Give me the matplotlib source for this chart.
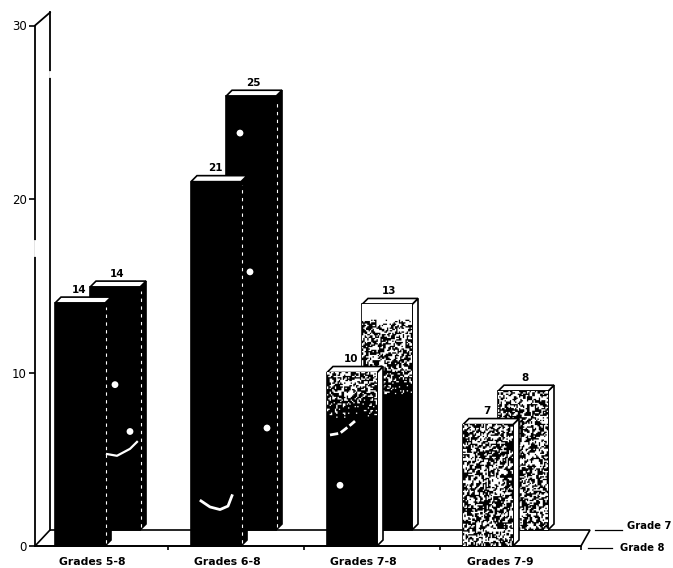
import numpy as np
import matplotlib
matplotlib.use("Agg")
import matplotlib.pyplot as plt
from matplotlib.patches import Polygon

categories = ["Grades 5-8", "Grades 6-8", "Grades 7-8", "Grades 7-9"]
series_names = ["Grade 7", "Grade 8"]
grade_8 = [14, 21, 10, 7]
grade_7 = [14, 25, 13, 8]
y_ticks = [0, 10, 20, 30]

# shading per bar, as (fraction down the bar, darkness); None means solid black
shade_8 = [None, None, [(0, 0.5), (0.08, 0.55), (0.2, 0.8), (0.27, 1.0), (1, 1.0)], [(0, 0.55), (0.8, 0.55), (1, 0.4)]]
shade_7 = [None, None, [(0, 0.0), (0.06, 0.0), (0.09, 0.5), (0.3, 0.58), (0.37, 0.9), (0.42, 1.0), (1, 1.0)], [(0, 0.5), (1, 0.5)]]

px_per_unit = 17.35
depth_x, depth_y = 35, 16 / px_per_unit
side_x, side_y = 6, 6 / px_per_unit
bar_w = 50
group_x = np.arange(4) * 136


def stipple(w, val, profile):
    # speckled fill, darker where the profile says so
    rows = max(int(val * px_per_unit / 1.3), 2)
    cols = int(w / 1.3)
    yy, xx = np.mgrid[0:rows, 0:cols]
    p = np.stack([xx + 7.0 * val, yy + 3.0, xx + 11.0], -1) * 0.1031
    p = p - np.floor(p)
    p = p + (p * (p[..., [1, 2, 0]] + 33.33)).sum(-1, keepdims=True)
    grain = (p[..., 0] + p[..., 1]) * p[..., 2]
    grain = grain - np.floor(grain)
    # neighbouring cells are merged so the specks form small clumps
    grain = grain + 0.7 * (np.roll(grain, 1, 0) + np.roll(grain, 1, 1))
    grain = grain.ravel().argsort().argsort().reshape(grain.shape) / grain.size
    frac = yy / (rows - 1)
    dark = np.interp(frac, [q[0] for q in profile], [q[1] for q in profile])
    return (grain > dark).astype(float)


def draw_bar(ax, x, val, base, profile, z, label_dx):
    face = "black" if profile is None else "white"
    side = [(x + bar_w, base), (x + bar_w + side_x, base + side_y),
            (x + bar_w + side_x, base + val + side_y), (x + bar_w, base + val)]
    cap = [(x, base + val), (x + side_x, base + val + side_y),
           (x + bar_w + side_x, base + val + side_y), (x + bar_w, base + val)]
    ax.add_patch(Polygon(side, facecolor=face, edgecolor="black", lw=1.2, zorder=z))
    ax.add_patch(Polygon(cap, facecolor="white", edgecolor="black", lw=1.2, zorder=z))
    ax.bar(x, val, bar_w, bottom=base, align="edge", facecolor=face, edgecolor="black", lw=1.2, zorder=z)
    if profile is not None:
        ax.imshow(stipple(bar_w, val, profile), extent=[x, x + bar_w, base, base + val],
                  aspect="auto", cmap="gray", vmin=0, vmax=1, interpolation="antialiased", zorder=z + 0.1)
    else:
        # pale dashed seam between the face and the side of dark bars
        ax.plot([x + bar_w + 1, x + bar_w + 1], [base + 0.2, base + val - 0.2], color="white",
                lw=0.8, ls=(0, (3, 4)), zorder=z + 0.1)
    ax.text(x + label_dx, base + val + side_y + 0.14, str(val), ha="center", va="bottom",
            fontsize=7.5, fontweight="bold", zorder=10)


fig = plt.figure(figsize=(6.73, 5.68), dpi=100)
ax = fig.add_axes([0, 0, 1, 1])
x_left, x_right = -55, 618
y_low, y_high = -22 / px_per_unit, 546 / px_per_unit

# floor and back wall
wall_x = -20
floor_end = 526
ax.add_patch(Polygon([(wall_x, 0), (wall_x + 15, depth_y), (floor_end + 9, depth_y), (floor_end, 0)],
                     facecolor="white", edgecolor="black", lw=1.2, zorder=1))
ax.plot([wall_x + 15, wall_x + 15], [depth_y, 30.75], color="black", lw=1.3, zorder=1)
ax.plot([wall_x, wall_x + 15], [30, 30.75], color="black", lw=1.3, zorder=1)

for i in range(4):
    draw_bar(ax, group_x[i] + depth_x, grade_7[i], depth_y, shade_7[i], 3 + i, 27)
for i in range(4):
    draw_bar(ax, group_x[i], grade_8[i], 0, shade_8[i], 7 + i, 24)

# small white flecks on the dark bars
flecks_x = [60, 75, 195, 185, 285, 212]
flecks_y = [9.3, 6.6, 15.8, 23.8, 3.5, 6.8]
ax.scatter(flecks_x, flecks_y, s=24, color="white", edgecolors="none", zorder=12)
ax.plot([52, 62, 75, 82], [5.3, 5.2, 5.6, 6.0], color="white", lw=1.6, zorder=12)
ax.plot([146, 155, 165, 173, 177], [2.6, 2.25, 2.1, 2.3, 2.9], color="white", lw=2, zorder=12)
ax.plot([275, 285, 296, 300], [6.4, 6.5, 7.0, 7.2], color="white", lw=2, ls=(0, (3, 1)), zorder=12)

for s in ["top", "right"]:
    ax.spines[s].set_visible(False)
ax.spines["left"].set_position(("data", wall_x))
ax.spines["left"].set_bounds(0, 30)
ax.spines["bottom"].set_position(("data", 0))
ax.spines["bottom"].set_bounds(wall_x, floor_end)
ax.spines["left"].set_linewidth(1.3)
ax.spines["bottom"].set_linewidth(1.3)
ax.spines["left"].set_zorder(2)
ax.spines["bottom"].set_zorder(2)

# breaks in the wall lines
ax.plot([wall_x, wall_x], [16.8, 17.6], color="white", lw=2, zorder=2.5)
ax.plot([wall_x + 15, wall_x + 15], [27.1, 27.3], color="white", lw=2, zorder=2.5)

ax.set_yticks(y_ticks)
ax.tick_params(axis="y", length=4, width=1.2, labelsize=8.5, pad=2)
ax.set_xticks(group_x + [37, 36, 36, 37])
ax.set_xticklabels(categories, fontsize=7.8, fontweight="bold")
ax.set_xticks(list(group_x[:3] + 113) + [floor_end], minor=True)
ax.tick_params(axis="x", which="major", length=0, pad=8)
ax.tick_params(axis="x", which="minor", length=3, width=1.2)

# series names beside the floor edges
ax.plot([540, 567], [depth_y, depth_y], color="black", lw=0.9)
ax.text(572, 1.15, series_names[0], fontsize=7.2, fontweight="bold", va="center")
ax.plot([533, 557], [-0.1, -0.1], color="black", lw=0.9)
ax.text(565, -0.1, series_names[1], fontsize=7.2, fontweight="bold", va="center")

ax.set_xlim(x_left, x_right)
ax.set_ylim(y_low, y_high)
ax.patch.set_alpha(0)
fig.savefig("out.png", dpi=100)
